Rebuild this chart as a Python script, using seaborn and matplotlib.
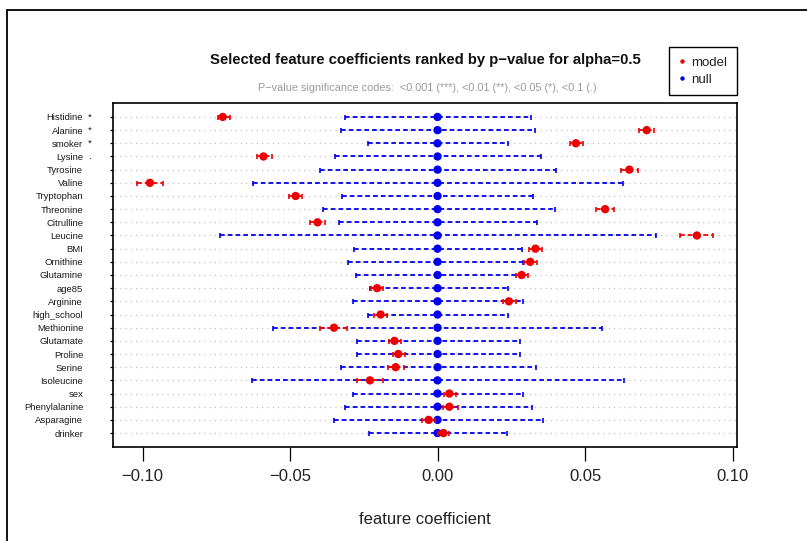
import matplotlib
matplotlib.use("Agg")
import matplotlib.pyplot as plt
from matplotlib.lines import Line2D
from matplotlib.patches import Rectangle
import seaborn as sns
import pandas as pd

# ---------------- data ----------------
features = ["Histidine", "Alanine", "smoker", "Lysine", "Tyrosine", "Valine",
            "Tryptophan", "Threonine", "Citrulline", "Leucine", "BMI", "Ornithine",
            "Glutamine", "age85", "Arginine", "high_school", "Methionine",
            "Glutamate", "Proline", "Serine", "Isoleucine", "sex",
            "Phenylalanine", "Asparagine", "drinker"]
signif = ["*", "*", "*", ".", "", "", "", "", "", "", "", "", "",
          "", "", "", "", "", "", "", "", "", "", "", ""]

model_coef = [-0.0728, 0.0709, 0.0469, -0.0590, 0.0650, -0.0975, -0.0481, 0.0568,
              -0.0407, 0.0879, 0.0332, 0.0314, 0.0285, -0.0205, 0.0242, -0.0193,
              -0.0351, -0.0146, -0.0133, -0.0142, -0.0229, 0.0040, 0.0040, -0.0030,
              0.0020]
model_low = [-0.0745, 0.0684, 0.0449, -0.0613, 0.0622, -0.1020, -0.0503, 0.0537,
             -0.0432, 0.0822, 0.0311, 0.0294, 0.0266, -0.0225, 0.0223, -0.0214,
             -0.0398, -0.0163, -0.0152, -0.0169, -0.0274, 0.0023, 0.0020, -0.0054,
             0.0003]
model_high = [-0.0703, 0.0735, 0.0494, -0.0562, 0.0681, -0.0929, -0.0458, 0.0598,
              -0.0380, 0.0935, 0.0354, 0.0336, 0.0307, -0.0186, 0.0266, -0.0172,
              -0.0308, -0.0125, -0.0110, -0.0113, -0.0184, 0.0063, 0.0068, -0.0008,
              0.0040]
null_coef = [0.0, 0.0, 0.0, 0.0, 0.0, 0.0, 0.0, 0.0, 0.0, 0.0, 0.0, 0.0, 0.0,
             0.0, 0.0, 0.0, 0.0, 0.0, 0.0, 0.0, 0.0, 0.0, 0.0, 0.0, 0.0]
null_low = [-0.0314, -0.0327, -0.0235, -0.0346, -0.0397, -0.0627, -0.0323, -0.0389,
            -0.0334, -0.0737, -0.0282, -0.0304, -0.0276, -0.0229, -0.0285, -0.0237,
            -0.0558, -0.0274, -0.0274, -0.0327, -0.0628, -0.0285, -0.0314, -0.0352,
            -0.0233]
null_high = [0.0316, 0.0332, 0.0239, 0.0350, 0.0402, 0.0630, 0.0325, 0.0397,
             0.0336, 0.0740, 0.0285, 0.0291, 0.0280, 0.0238, 0.0290, 0.0240,
             0.0558, 0.0280, 0.0280, 0.0334, 0.0631, 0.0289, 0.0319, 0.0357,
             0.0237]
x_ticks = [-0.10, -0.05, 0.00, 0.05, 0.10]
x_tick_labels = ["\u22120.10", "\u22120.05", "0.00", "0.05", "0.10"]

title = "Selected feature coefficients ranked by p\u2212value for alpha=0.5"
subtitle = "P\u2212value significance codes:  <0.001 (***), <0.01 (**), <0.05 (*), <0.1 (.)"

# ---------------- style ----------------
sns.set_theme(style="white")
plt.rcParams["font.family"] = ["Liberation Sans", "DejaVu Sans"]
plt.rcParams["axes.unicode_minus"] = True

df = pd.DataFrame({
    "feature": features,
    "pos": list(range(len(features))),
    "model": model_coef, "model_low": model_low, "model_high": model_high,
    "null": null_coef, "null_low": null_low, "null_high": null_high,
})

W, H = 807, 541
fig = plt.figure(figsize=(W / 100, H / 100), dpi=100)
ax = fig.add_axes([113 / W, 1 - 447 / H, (737 - 113) / W, (447 - 103) / H])

# outer screenshot frame (top and left edges visible)
fig.patches.append(Rectangle((7 / W, -0.5), 2.0, 1.5 - 10 / H, transform=fig.transFigure,
                             fill=False, edgecolor="black", linewidth=1.3, zorder=10))

# grey dotted guide lines
ax.hlines(df["pos"], -0.2, 0.2, colors="#c4c4c4", linewidth=0.9,
          linestyles=(0, (1, 3.2)), zorder=1)

# null ranges (blue dashed)
eb = ax.errorbar(df["null"], df["pos"],
                 xerr=[df["null"] - df["null_low"], df["null_high"] - df["null"]],
                 fmt="none", ecolor="#0000ee", elinewidth=1.3, capsize=1.8,
                 capthick=1.2, zorder=2)
eb[2][0].set_linestyle((0, (2.6, 1.7)))

# model ranges (red dashed)
eb2 = ax.errorbar(df["model"], df["pos"],
                  xerr=[df["model"] - df["model_low"], df["model_high"] - df["model"]],
                  fmt="none", ecolor="#ee0000", elinewidth=1.3, capsize=1.8,
                  capthick=1.2, zorder=4)
eb2[2][0].set_linestyle((0, (2.6, 1.7)))

sns.scatterplot(data=df, x="null", y="pos", color="#0000ee", s=36,
                edgecolor="none", ax=ax, zorder=3, legend=False)
sns.scatterplot(data=df, x="model", y="pos", color="#ee0000", s=36,
                edgecolor="none", ax=ax, zorder=5, legend=False)

ax.set_xlim(-0.1100, 0.1015)
ax.set_ylim(len(features) - 1 + 1.06, -1.06)

ax.set_yticks(df["pos"])
ax.set_yticklabels(features, fontsize=6.8, color="#1a1a1a")
ax.set_xticks(x_ticks)
ax.set_xticklabels(x_tick_labels, fontsize=12, color="#222222")
ax.tick_params(axis="y", which="both", left=True, length=2.5, width=0.9,
               color="black", pad=19, direction="out")
ax.tick_params(axis="x", which="both", bottom=True, length=10, width=0.9,
               color="black", pad=6, direction="out")
ax.set_xlabel("feature coefficient", fontsize=12, color="#222222", labelpad=20)
ax.set_ylabel("")

for sp in ax.spines.values():
    sp.set_visible(True)
    sp.set_color("black")
    sp.set_linewidth(1.2)

# significance marks
for p, s in zip(df["pos"], signif):
    if s:
        ax.text(-0.040, p, s, transform=ax.get_yaxis_transform(), fontsize=6.8,
                color="#1a1a1a", ha="left", va="center")

fig.text(425 / W, 1 - 60 / H, title, fontsize=10.7, fontweight="bold",
         ha="center", va="center", color="#111111")
fig.text(427 / W, 1 - 88 / H, subtitle, fontsize=7.8, color="#9a9a9a",
         ha="center", va="center")

handles = [Line2D([], [], linestyle="none", marker="o", markersize=3.2,
                  markerfacecolor="#ee0000", markeredgecolor="none"),
           Line2D([], [], linestyle="none", marker="o", markersize=3.2,
                  markerfacecolor="#0000ee", markeredgecolor="none")]
leg = fig.legend(handles, ["model", "null"], loc="upper right",
                 bbox_to_anchor=(737 / W, 1 - 47 / H), fontsize=9.5,
                 frameon=True, fancybox=False, framealpha=1, edgecolor="black",
                 handlelength=0.6, handletextpad=0.4, borderpad=0.71,
                 labelspacing=0.36, borderaxespad=0)
leg.get_frame().set_linewidth(1.0)
for t in leg.get_texts():
    t.set_color("#222222")

fig.savefig("out.png", dpi=100)
